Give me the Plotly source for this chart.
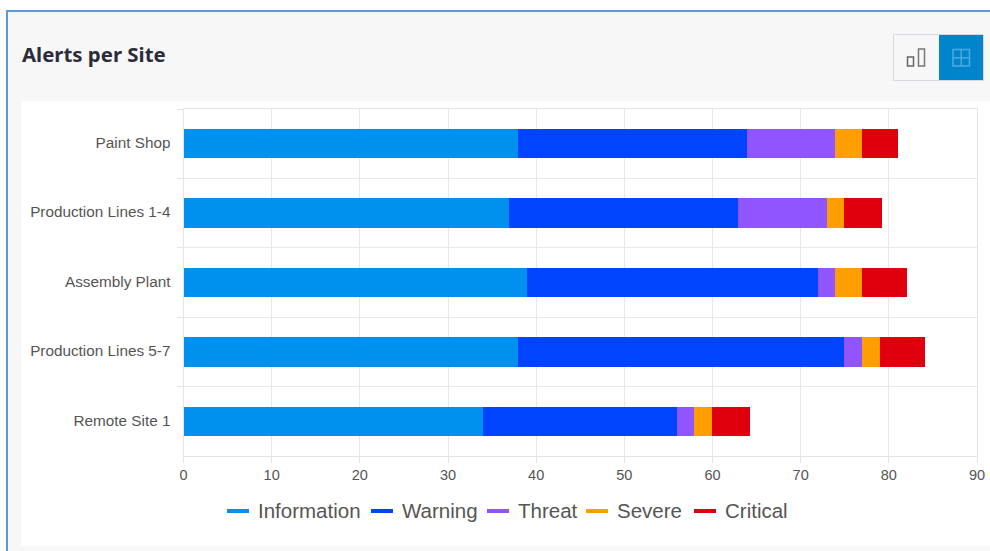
import plotly.graph_objects as go

W, H = 990, 551

sites = ["Paint Shop", "Production Lines 1-4", "Assembly Plant", "Production Lines 5-7", "Remote Site 1"]
severities = ["Information", "Warning", "Threat", "Severe", "Critical"]
information = [38, 37, 39, 38, 34]
warning = [26, 26, 33, 37, 22]
threat = [10, 10, 2, 2, 2]
severe = [3, 2, 3, 2, 2]
critical = [4, 4.2, 5, 5, 4.2]
colors = ["#0090EE", "#0044FF", "#9055FF", "#FF9E00", "#E0000D"]
x_ticks = [0, 10, 20, 30, 40, 50, 60, 70, 80, 90]
series = [information, warning, threat, severe, critical]

# Left edge of each legend entry, in pixels
legend_left = [227, 371, 487, 586, 694]

SANS = "Liberation Sans, Arial, sans-serif"


def px(x):
    return x / W


def py(y):
    return 1 - y / H


def box(x0, y0, x1, y1, fill="rgba(0,0,0,0)", line=None, width=1):
    return dict(
        type="rect", xref="paper", yref="paper", layer="below",
        x0=px(x0), x1=px(x1), y0=py(y0), y1=py(y1),
        fillcolor=fill, line=dict(color=line, width=width) if line else dict(width=0),
    )


def rule(x0, y0, x1, y1, color, width=1):
    return dict(
        type="line", xref="paper", yref="paper", layer="below",
        x0=px(x0), x1=px(x1), y0=py(y0), y1=py(y1),
        line=dict(color=color, width=width),
    )


fig = go.Figure()

for name, values, color in zip(severities, series, colors):
    fig.add_trace(go.Bar(
        y=sites, x=values, orientation="h", name=name, showlegend=False,
        marker=dict(color=color, line=dict(color=color, width=1)),
        hoverinfo="x+y+name",
    ))

panel_shapes = [
    box(7, 11, 995, 560, fill="#F7F7F7"),
    rule(7, 11, 7, 551, "#5B9BD8", 2),
    rule(6, 11, 990, 11, "#5B9BD8", 2),
    box(21, 101, 990, 546, fill="#FFFFFF"),
]

# View toggle in the card header
toggle_shapes = [
    box(893.5, 34.5, 983.5, 80.5, fill="#F7F7F7", line="#D8D8E2", width=1),
    box(939, 35, 983, 80, fill="#0085CC"),
    box(907.5, 57, 913.5, 66, line="#666666", width=1.5),
    box(918.5, 49, 924.5, 66, line="#777777", width=1.5),
    box(953, 49.5, 969.5, 66, line="#4FA8DE", width=1.5),
    rule(961.25, 49.5, 961.25, 66, "#4FA8DE", 1.5),
    rule(953, 57.75, 969.5, 57.75, "#4FA8DE", 1.5),
]

# Legend row: a short stroke followed by the severity name
legend_shapes = [
    rule(left, 511, left + 22, 511, color, 4)
    for left, color in zip(legend_left, colors)
]
legend_labels = [
    dict(
        text=name, xref="paper", yref="paper",
        x=px(left + 28.5), y=py(510.5), xanchor="left", yanchor="middle",
        showarrow=False, font=dict(family=SANS, size=20.5, color="#555555"),
    )
    for left, name in zip(legend_left, severities)
]

title = dict(
    text="<b>Alerts per Site</b>",
    xref="paper", yref="paper",
    x=px(20), y=py(54), xanchor="left", yanchor="middle",
    showarrow=False,
    font=dict(family="Noto Sans, sans-serif", size=20.4, color="#2B2B3A"),
)

fig.update_layout(
    width=W, height=H,
    margin=dict(l=0, r=0, t=0, b=0, autoexpand=False),
    paper_bgcolor="#FFFFFF",
    plot_bgcolor="#FFFFFF",
    barmode="stack",
    bargap=0.59,
    showlegend=False,
    font=dict(family=SANS, color="#555555", size=14),
    shapes=panel_shapes + toggle_shapes + legend_shapes,
    annotations=[title] + legend_labels,
    xaxis=dict(
        domain=[px(183.5), px(977)],
        range=[0, 90],
        tickvals=x_ticks,
        automargin=False,
        showgrid=True, gridcolor="#E8E8E8", gridwidth=1,
        zeroline=True, zerolinecolor="#E4E4E4", zerolinewidth=1,
        showline=True, linecolor="#E4E4E4", linewidth=1,
        ticks="outside", ticklen=6, tickcolor="#E4E4E4",
        tickfont=dict(family=SANS, size=14.5, color="#555555"),
        mirror=True,
    ),
    yaxis=dict(
        domain=[py(456), py(109)],
        autorange="reversed",
        automargin=False,
        tickson="boundaries",
        showgrid=True, gridcolor="#E8E8E8", gridwidth=1,
        showline=True, linecolor="#E4E4E4", linewidth=1,
        ticks="outside", ticklen=6, tickcolor="#E4E4E4",
        ticklabelstandoff=9,
        ticklabelshift=1,
        tickfont=dict(family=SANS, size=15.3, color="#555555"),
        mirror=True,
    ),
)

fig.write_html("out.html", config=dict(displayModeBar=False))
